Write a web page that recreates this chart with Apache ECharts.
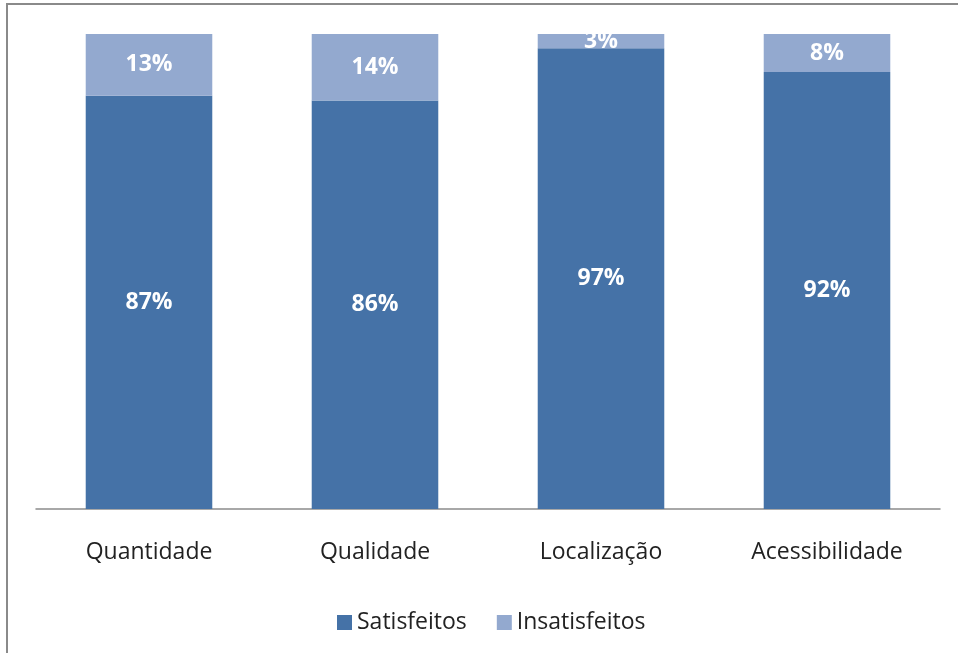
<!DOCTYPE html>
<html>
<head>
<meta charset="utf-8">
<script src="https://cdn.jsdelivr.net/npm/echarts@6/dist/echarts.min.js"></script>
<style>
  html, body { margin: 0; padding: 0; background: #fff; }
  #chart { width: 958px; height: 653px; }
</style>
</head>
<body>
<div id="chart"></div>
<script>
// Satisfaction survey: share of satisfied vs. unsatisfied answers per aspect
const categories = ['Quantidade', 'Qualidade', 'Localização', 'Acessibilidade'];
const satisfeitos = [87, 86, 97, 92];
const insatisfeitos = [13, 14, 3, 8];
const seriesNames = ['Satisfeitos', 'Insatisfeitos'];

const FONT = 'Open Sans';
const chart = echarts.init(document.getElementById('chart'), null, { renderer: 'canvas' });

const labelStyle = {
  show: true,
  position: 'inside',
  color: '#ffffff',
  fontFamily: FONT,
  fontWeight: 'bold',
  fontSize: 23,
  formatter: p => p.value + '%'
};

chart.setOption({
  animation: false,
  backgroundColor: '#ffffff',
  graphic: [{
    type: 'rect',
    shape: { x: 7, y: 4, width: 1000, height: 700 },
    style: { fill: 'none', stroke: '#8a8a8a', lineWidth: 2 },
    silent: true
  }],
  grid: { left: 36, right: 18, top: 34, bottom: 144 },
  legend: {
    data: seriesNames,
    bottom: 14,
    left: 332,
    itemWidth: 15,
    itemHeight: 15,
    itemGap: 30,
    icon: 'rect',
    textStyle: { fontFamily: FONT, fontSize: 23, color: '#222' }
  },
  xAxis: {
    type: 'category',
    data: categories,
    axisLine: { lineStyle: { color: '#8c8c8c', width: 1.5 } },
    axisTick: { show: false },
    axisLabel: { fontFamily: FONT, fontSize: 23, color: '#222', margin: 32 }
  },
  yAxis: {
    type: 'value',
    min: 0,
    max: 100,
    show: false,
    splitLine: { show: false }
  },
  series: [
    {
      name: seriesNames[0],
      type: 'bar',
      stack: 'total',
      data: satisfeitos,
      barWidth: '56%',
      itemStyle: { color: '#4572A7' },
      label: labelStyle
    },
    {
      name: seriesNames[1],
      type: 'bar',
      stack: 'total',
      data: insatisfeitos,
      barWidth: '56%',
      itemStyle: { color: '#93A9CF' },
      label: labelStyle
    }
  ]
});
</script>
</body>
</html>
